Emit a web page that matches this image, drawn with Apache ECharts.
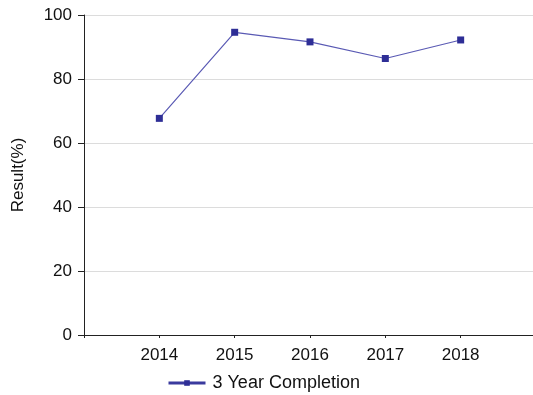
<!DOCTYPE html>
<html>
<head>
<meta charset="utf-8">
<script src="https://cdn.jsdelivr.net/npm/echarts@6/dist/echarts.min.js"></script>
<style>
  html, body { margin: 0; padding: 0; background: #fff; }
  #chart { width: 533px; height: 395px; }
</style>
</head>
<body>
<div id="chart"></div>
<script>
// Years on the x axis; blank slots pad each end so the years sit one step in from the axes
const years = ['', '2014', '2015', '2016', '2017', '2018', ''];
// Completion rate per year (%)
const completion = [null, 67.7, 94.6, 91.6, 86.4, 92.2, null];
const seriesName = '3 Year Completion';
const yTicks = { min: 0, max: 100, interval: 20 };

const font = '"Liberation Sans", Arial, sans-serif';
const chart = echarts.init(document.getElementById('chart'));
chart.setOption({
  animation: false,
  textStyle: { fontFamily: font },
  grid: {
    left: 84, width: 452, top: 15, height: 320,
    containLabel: false, outerBoundsMode: 'none'
  },
  xAxis: {
    type: 'category',
    data: years,
    boundaryGap: false,
    axisLine: { lineStyle: { color: '#222', width: 1 } },
    axisTick: { show: true, length: 3, lineStyle: { color: '#222' } },
    axisLabel: { color: '#111', fontSize: 17, fontFamily: font, margin: 12, interval: 0 },
    splitLine: { show: false }
  },
  yAxis: {
    type: 'value',
    min: yTicks.min,
    max: yTicks.max,
    interval: yTicks.interval,
    name: 'Result(%)',
    nameLocation: 'middle',
    nameGap: 57,
    nameTextStyle: { color: '#111', fontSize: 17, fontFamily: font },
    axisLine: { show: true, lineStyle: { color: '#222', width: 1 } },
    axisTick: { show: true, length: 6, lineStyle: { color: '#222' } },
    axisLabel: { color: '#111', fontSize: 17, fontFamily: font, margin: 12 },
    splitLine: { show: true, lineStyle: { color: '#dcdcdc', width: 1 } }
  },
  legend: {
    data: [seriesName],
    left: 167,
    top: 374,
    padding: 0,
    itemWidth: 37,
    itemHeight: 7,
    itemGap: 10,
    textStyle: { color: '#111', fontSize: 18, fontFamily: font, padding: [0, 0, 0, 2] },
    lineStyle: { width: 3, color: '#3a3a9e' }
  },
  series: [{
    name: seriesName,
    type: 'line',
    data: completion,
    connectNulls: false,
    symbol: 'rect',
    symbolSize: 7,
    itemStyle: { color: '#2e2e96' },
    lineStyle: { color: '#5a5ab4', width: 1.2 }
  }]
});
</script>
</body>
</html>
